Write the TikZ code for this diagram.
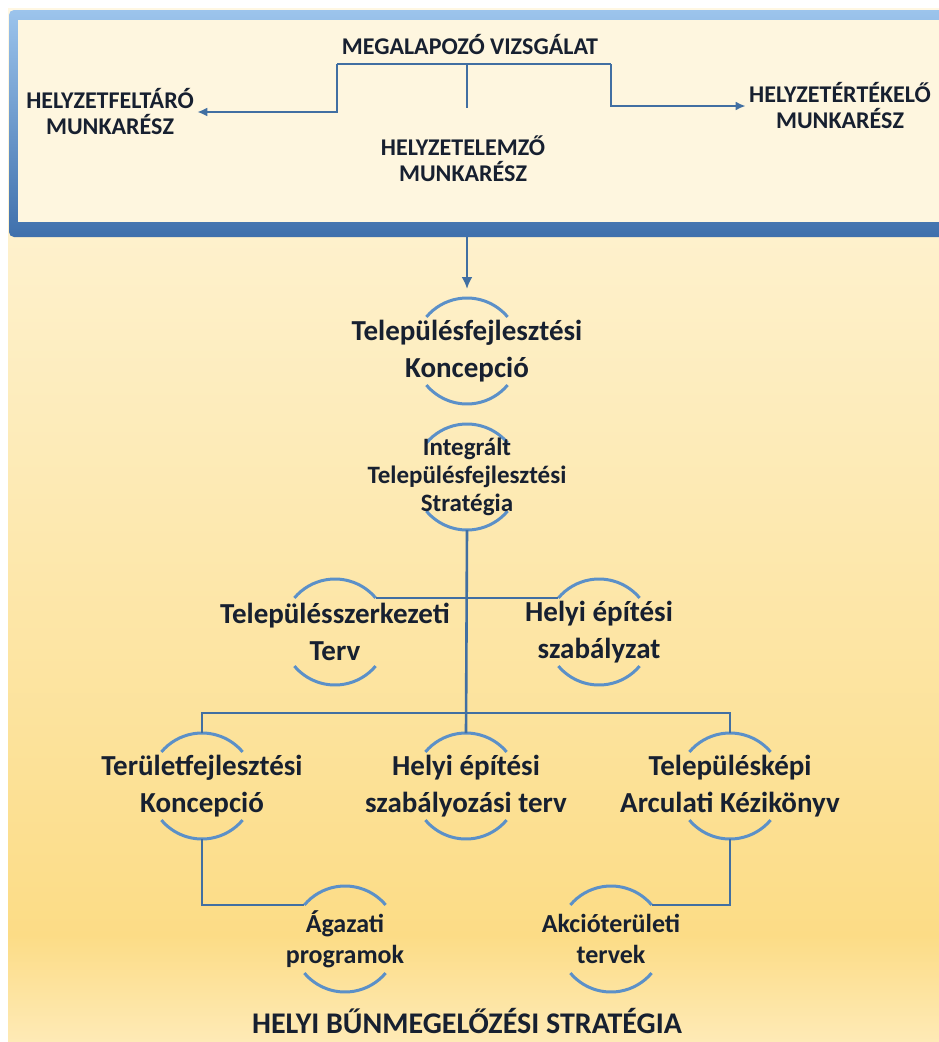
\documentclass[tikz,border=0pt]{standalone}
\usepackage{fontspec}
\setmainfont{Carlito}
\usetikzlibrary{arrows.meta,positioning,calc,backgrounds}

\definecolor{arcblue}{HTML}{5B90C8}
\definecolor{lineblue}{HTML}{416FA2}
\definecolor{txt}{HTML}{172030}
\definecolor{bgtop}{HTML}{FFF7E2}
\definecolor{bgmid}{HTML}{FDEBB8}
\definecolor{bgdeep}{HTML}{FCDC86}
\definecolor{bgbot}{HTML}{FEEAB6}
\definecolor{frametop}{HTML}{9CC4EC}
\definecolor{framebot}{HTML}{3F70AC}
\definecolor{boxfill}{HTML}{FEF6DF}

\begin{document}
\begin{tikzpicture}[x=1pt,y=1pt,on grid,
  every node/.style={align=center,text=txt},
  caps/.style={font=\fontsize{24}{26}\selectfont\bfseries},
  big/.style={font=\fontsize{29}{37}\selectfont\bfseries},
  mid/.style={font=\fontsize{25}{28}\selectfont\bfseries},
  small/.style={font=\fontsize{26}{31}\selectfont\bfseries},
  conn/.style={draw=lineblue,line width=2.6pt},
  arcline/.style={draw=arcblue,line width=3pt},
  tip/.style={-{Latex[length=12pt,width=11pt]}}]
        \useasboundingbox (0,0) rectangle (939,-1042);
        \clip (0,0) rectangle (939,-1042);
        % box content
        \node[caps] (mv) at (470,-45) {MEGALAPOZÓ VIZSGÁLAT};
        \node[caps] (hf) at (110,-112) {HELYZETFELTÁRÓ\\MUNKARÉSZ};
        \node[caps] (he) at (463,-159) {HELYZETELEMZŐ\\MUNKARÉSZ};
        \node[caps] (ht) at (840,-106) {HELYZETÉRTÉKELŐ\\MUNKARÉSZ};
        % plans
        \node[big] (tk) at (467,-351) {Településfejlesztési\\Koncepció};
        \node[mid] (its) [below=126pt of tk] {Integrált\\Településfejlesztési\\Stratégia};
        \node[big] (tsz) at (335,-632) {Településszerkezeti\\Terv};
        \node[big] (hesz) [right=264pt of tsz] {Helyi építési\\szabályzat};
        \node[big] (tfk) at (202,-786) {Területfejlesztési\\Koncepció};
        \node[big] (hesz2) [right=264pt of tfk] {Helyi építési\\szabályozási terv};
        \node[big] (tak) [right=264pt of hesz2] {Településképi\\Arculati Kézikönyv};
        \node[small] (agp) at (345,-939) {Ágazati\\programok};
        \node[small] (akt) [right=266pt of agp] {Akcióterületi\\tervek};
        \node[font=\fontsize{30}{34}\selectfont\bfseries,inner sep=0pt,anchor=base] (hbs) at (467,-1033) {HELYI BŰNMEGELŐZÉSI STRATÉGIA};

        \begin{scope}[on background layer]
        \fill[white] (0,0) rectangle (939,-1042);
        \shade[top color=bgtop,bottom color=bgmid] (8,-8) rectangle (939,-450);
        \shade[top color=bgmid,bottom color=bgdeep] (8,-450) rectangle (939,-935);
        \shade[top color=bgdeep,bottom color=bgbot] (8,-935) rectangle (939,-1042);
        \shade[top color=frametop,bottom color=framebot,rounded corners=5pt] (9,-10) rectangle (960,-237);
        \fill[boxfill] (18,-20) rectangle (960,-222);
        % bracket in the box
        \coordinate (bl) at (337,-64);
        \coordinate (br) at (611,-64);
        \draw[conn] (bl) -- (br);
        \draw[conn] (bl -| tk) -- ++(0,-44);
        \draw[conn,-{Latex[length=10pt,width=9pt]}] (bl) |- (hf.east);
        \draw[conn,-{Latex[length=10pt,width=9pt]}] (br) |- (ht.west);
        \draw[conn,tip] (467,-237) -- ($(tk)+(0,62)$);
        % half circles round the plans
        \foreach \n in {tk,its,tsz,hesz,tfk,hesz2,tak,agp,akt}{
          \draw[arcline] ($(\n)+(40:53)$) arc[start angle=40,end angle=140,radius=53];
          \draw[arcline] ($(\n)+(220:53)$) arc[start angle=220,end angle=320,radius=53];
        }
        \draw[conn] ($(its)+(0,-53)$) -- ($(hesz2)+(0,53)$);
        \draw[conn] ($(tsz)+(40:53)$) -- ($(hesz)+(140:53)$);
        \draw[conn] ($(tfk)+(0,53)$) |- ($(hesz2)+(0,73)$) -| ($(tak)+(0,53)$);
        \draw[conn] ($(tfk)+(0,-53)$) |- ($(agp)+(140:53)$);
        \draw[conn] ($(tak)+(0,-53)$) |- ($(akt)+(40:53)$);
        \end{scope}
      \end{tikzpicture}
\end{document}
